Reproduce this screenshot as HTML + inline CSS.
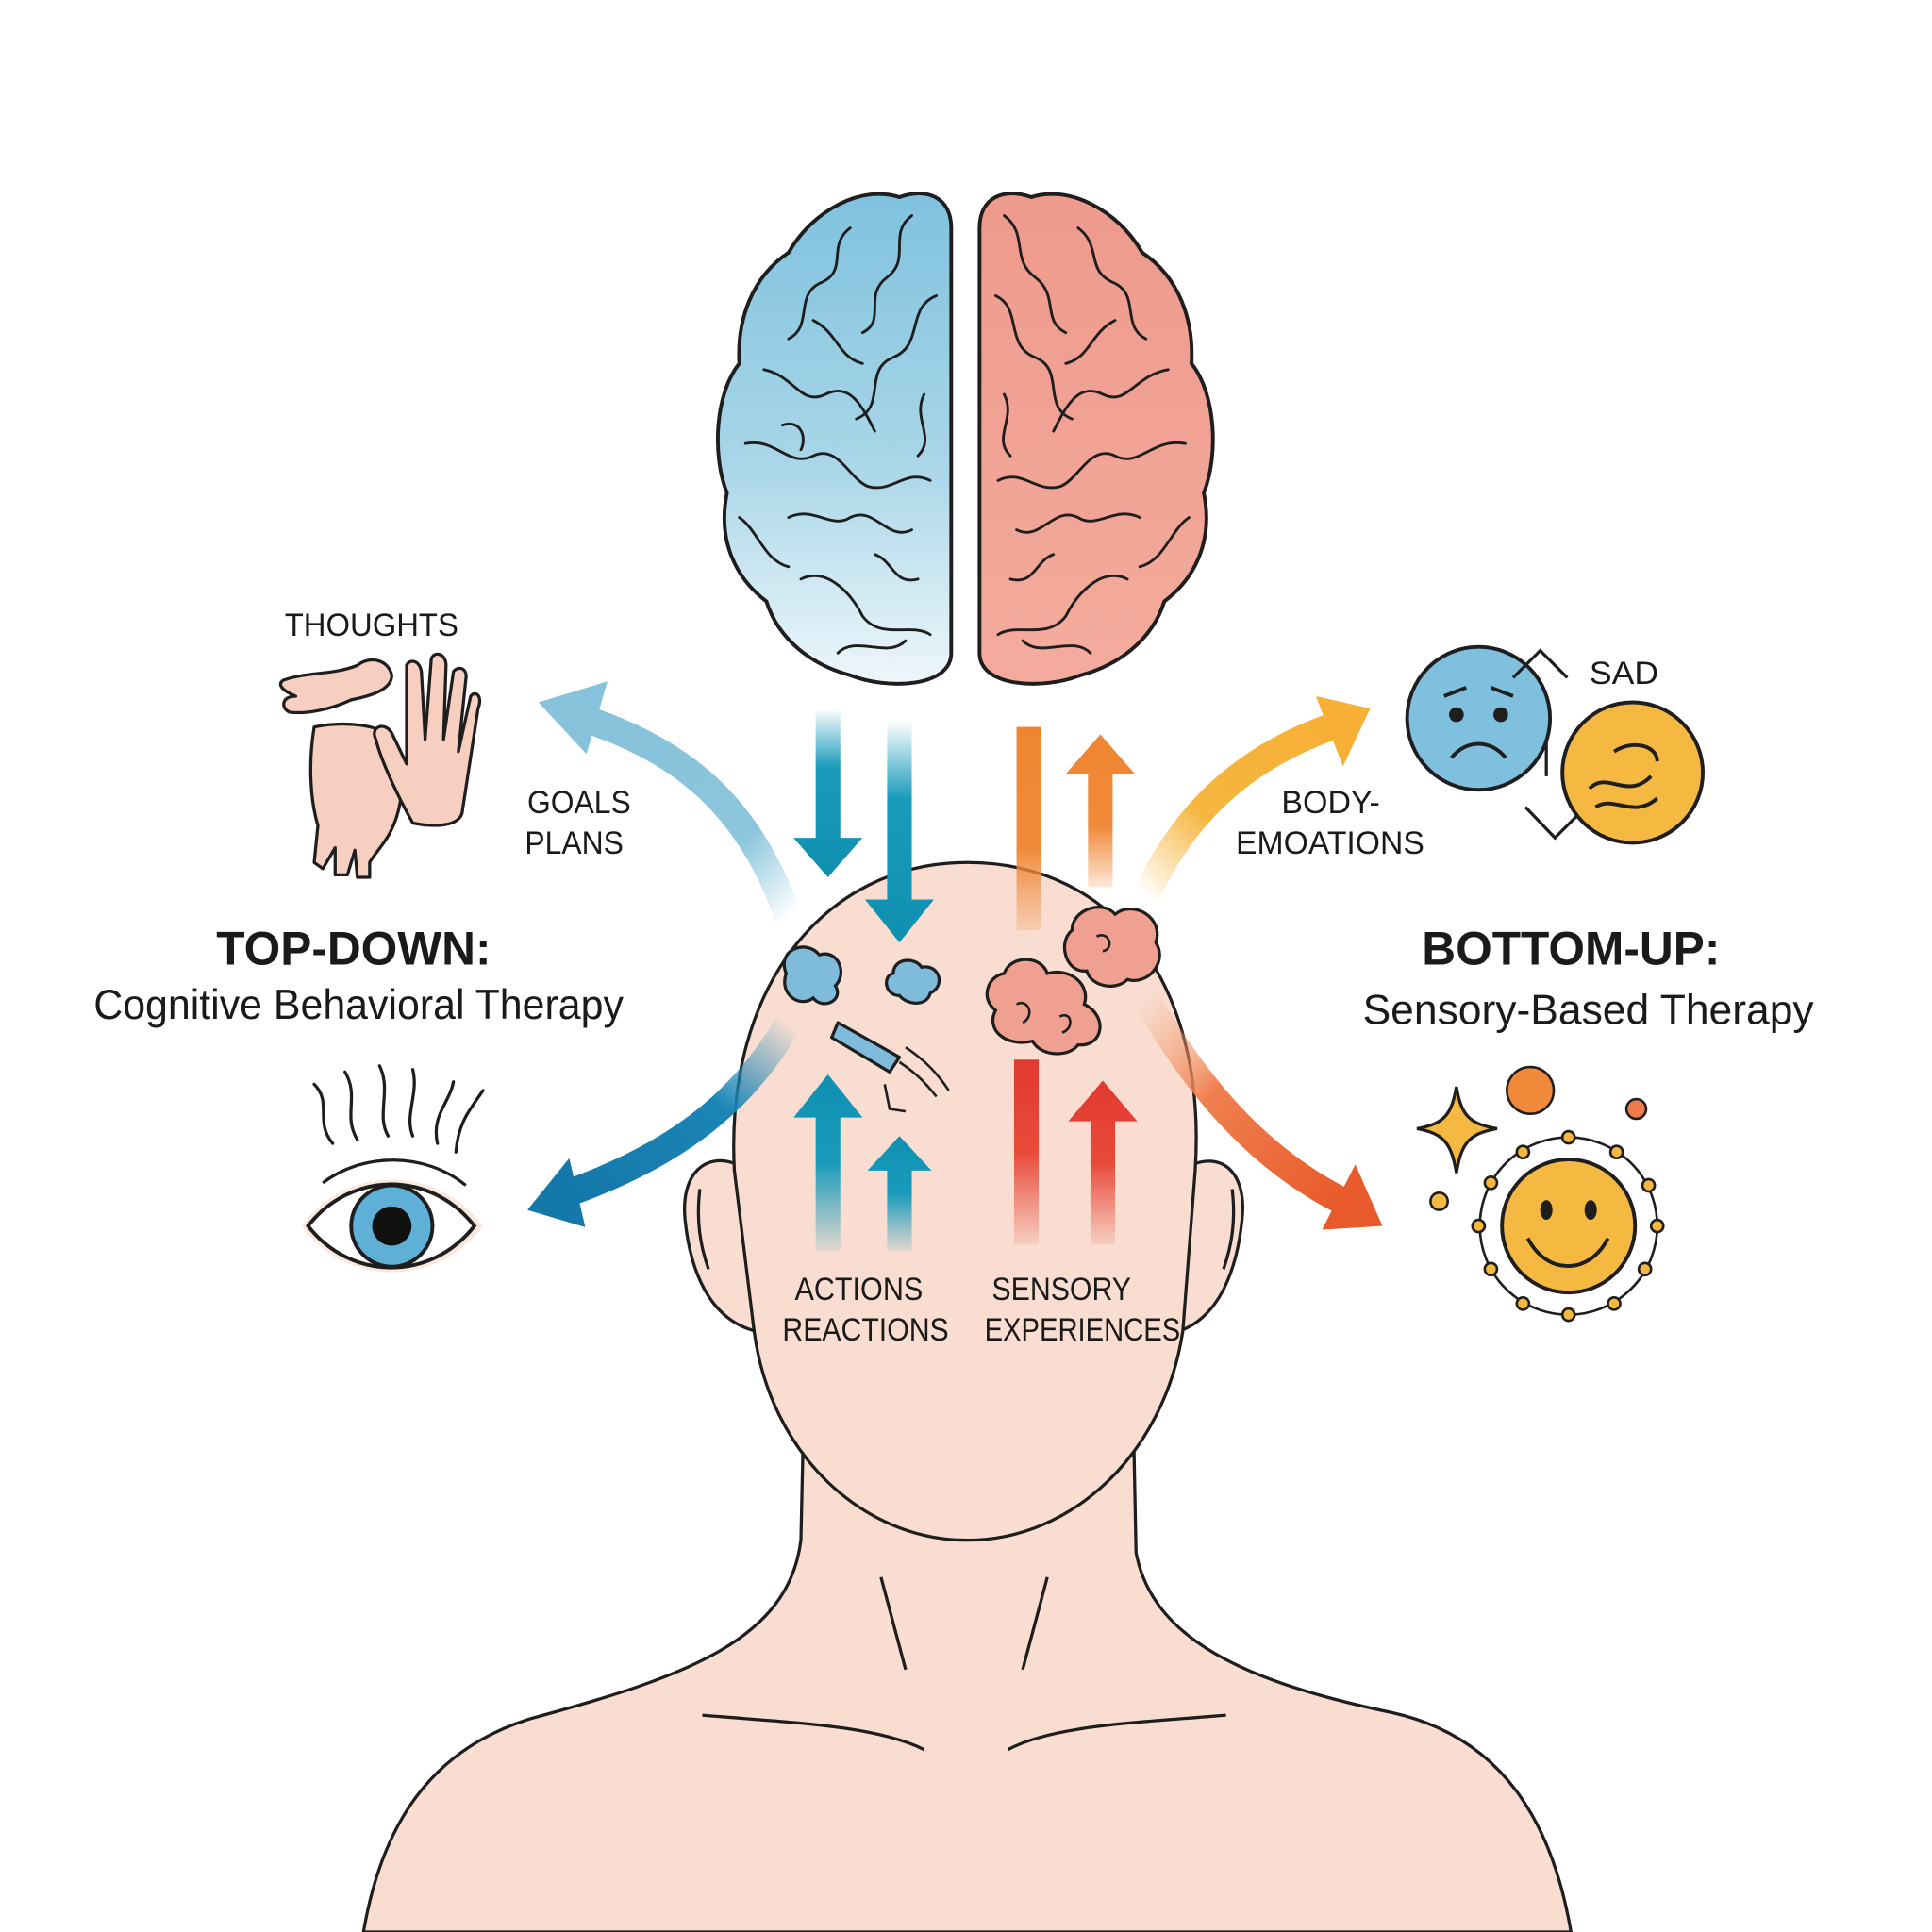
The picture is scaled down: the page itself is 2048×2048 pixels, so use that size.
<!DOCTYPE html>
<html><head><meta charset="utf-8"><style>
html,body{margin:0;padding:0;background:#fff}
svg{display:block}
text{font-family:"Liberation Sans","DejaVu Sans",sans-serif;fill:#1a1a1a}
</style></head><body>
<svg width="2048" height="2048" viewBox="0 0 1568 1568" xmlns="http://www.w3.org/2000/svg">
<defs>
<linearGradient id="bl" x1="0" y1="0" x2="0" y2="1"><stop offset="0" stop-color="#7fc2de"/><stop offset="0.55" stop-color="#a9d6e8"/><stop offset="1" stop-color="#eef7fb"/></linearGradient>
<linearGradient id="pk" x1="0" y1="0" x2="0" y2="1"><stop offset="0" stop-color="#ee9a8c"/><stop offset="1" stop-color="#f4ab9d"/></linearGradient>
<linearGradient id="dn" x1="0" y1="0" x2="0" y2="1"><stop offset="0" stop-color="#1a9bbb" stop-opacity="0"/><stop offset="0.35" stop-color="#1a9bbb"/><stop offset="1" stop-color="#1090b0"/></linearGradient>
<linearGradient id="up" x1="0" y1="1" x2="0" y2="0"><stop offset="0" stop-color="#1a9bbb" stop-opacity="0.1"/><stop offset="0.5" stop-color="#1a9bbb"/><stop offset="1" stop-color="#1090b0"/></linearGradient>
<linearGradient id="or" x1="0" y1="1" x2="0" y2="0"><stop offset="0" stop-color="#f08a3a" stop-opacity="0.2"/><stop offset="0.4" stop-color="#f08a3a"/><stop offset="1" stop-color="#ef8530"/></linearGradient>
<linearGradient id="rd" x1="0" y1="1" x2="0" y2="0"><stop offset="0" stop-color="#e84a3a" stop-opacity="0.1"/><stop offset="0.5" stop-color="#e84a3a"/><stop offset="1" stop-color="#e23a30"/></linearGradient>
<linearGradient id="c1" x1="1" y1="1" x2="0" y2="0"><stop offset="0" stop-color="#8cc6dc" stop-opacity="0"/><stop offset="0.3" stop-color="#8cc6dc"/><stop offset="1" stop-color="#86c2da"/></linearGradient>
<linearGradient id="c2" x1="1" y1="0" x2="0" y2="1"><stop offset="0" stop-color="#1a85b5" stop-opacity="0"/><stop offset="0.4" stop-color="#1a85b5"/><stop offset="1" stop-color="#1578aa"/></linearGradient>
<linearGradient id="c3" x1="0" y1="1" x2="1" y2="0"><stop offset="0" stop-color="#f6b640" stop-opacity="0"/><stop offset="0.4" stop-color="#f6b640"/><stop offset="1" stop-color="#f7b035"/></linearGradient>
<linearGradient id="c4" x1="0" y1="0" x2="1" y2="1"><stop offset="0" stop-color="#f4a070" stop-opacity="0"/><stop offset="0.4" stop-color="#f08050"/><stop offset="1" stop-color="#e85a2a"/></linearGradient>
</defs>
<rect width="1568" height="1568" fill="#fff"/>

<g stroke="#1e1e1e" stroke-width="2.5" fill="#f8ddd0">
<path d="M295,1568 C310,1480 350,1420 430,1395 C560,1360 640,1330 650,1250 L652,1160 L920,1160 L922,1260 C935,1330 1010,1365 1130,1390 C1220,1410 1260,1480 1275,1568 Z"/>
<path d="M598,945 C575,935 552,950 556,990 C560,1030 575,1070 612,1080 Z"/>
<path d="M968,945 C995,935 1012,955 1008,990 C1004,1030 990,1068 958,1080 Z"/>
<path d="M596,950 C588,800 670,700 785,700 C905,700 980,800 970,950 L960,1080 C945,1180 870,1250 785,1250 C700,1250 625,1180 612,1080 Z"/>
</g>
<g stroke="#1e1e1e" stroke-width="2.5" fill="none">
<path d="M715,1280 L735,1355"/><path d="M850,1280 L830,1355"/>
<path d="M570,1392 C640,1398 710,1400 750,1420"/><path d="M995,1392 C925,1398 855,1400 818,1420"/>
<path d="M568,965 C565,990 568,1010 575,1030"/><path d="M1000,965 C1003,990 1000,1010 993,1030"/>
</g>

<g stroke="#1e1e1e" stroke-width="3" stroke-linejoin="round">
<path fill="url(#bl)" d="M772,185 C772,160 752,152 730,160 C700,150 660,170 640,205 C610,225 598,260 600,295 C580,320 578,370 590,400 C582,440 598,470 622,488 C632,520 660,540 690,548 C720,560 772,558 772,530 Z"/>
<path fill="url(#pk)" d="M795,185 C795,160 815,152 837,160 C867,150 907,170 927,205 C957,225 969,260 967,295 C987,320 989,370 977,400 C985,440 969,470 945,488 C935,520 907,540 877,548 C847,560 795,558 795,530 Z"/>
</g>
<g stroke="#1e1e1e" stroke-width="2.2" fill="none" stroke-linecap="round">
<path d="M740,175 C720,190 740,210 720,225 C700,240 720,260 700,270"/>
<path d="M690,185 C670,200 690,220 665,230 C645,240 660,265 640,275"/>
<path d="M760,240 C735,250 750,280 725,290 C700,300 720,330 695,340"/>
<path d="M620,300 C645,305 650,330 670,320 C690,310 700,330 710,350"/>
<path d="M605,360 C630,355 640,380 660,370 C680,360 690,390 705,395 C725,400 735,380 755,390"/>
<path d="M640,420 C660,410 675,430 690,420 C710,410 720,440 740,430"/>
<path d="M600,420 C615,430 620,455 640,460"/>
<path d="M650,470 C670,460 690,480 700,500 C715,520 740,505 755,515"/>
<path d="M680,530 C695,515 720,535 735,520"/>
<path d="M750,320 C740,340 760,355 745,370"/>
<path d="M660,260 C680,270 680,290 700,295"/>
<path d="M635,345 C650,340 655,355 650,365"/>
<path d="M710,450 C725,455 725,475 745,470"/>
<path d="M815,175 C835,190 820,210 840,225 C860,240 845,260 865,270"/>
<path d="M875,185 C895,200 880,220 905,230 C925,240 910,265 930,275"/>
<path d="M808,240 C830,250 815,280 840,290 C865,300 845,330 870,340"/>
<path d="M948,300 C920,305 915,330 895,320 C875,310 865,330 855,350"/>
<path d="M962,360 C935,355 925,380 905,370 C885,360 875,390 860,395 C840,400 830,380 810,390"/>
<path d="M925,420 C905,410 890,430 875,420 C855,410 845,440 825,430"/>
<path d="M965,420 C950,430 945,455 925,460"/>
<path d="M915,470 C895,460 875,480 865,500 C850,520 825,505 810,515"/>
<path d="M885,530 C870,515 845,535 830,520"/>
<path d="M815,320 C825,340 805,355 820,370"/>
<path d="M905,260 C885,270 885,290 865,295"/>
<path d="M855,450 C840,455 840,475 820,470"/>
</g>

<path d="M662,575 h20 v105 h18 l-28,32 l-28,-32 h18 Z" fill="url(#dn)"/>
<path d="M720,585 h20 v145 h18 l-28,35 l-28,-35 h18 Z" fill="url(#dn)"/>
<rect x="825" y="590" width="20" height="165" fill="url(#or)"/>
<path d="M883,720 v-92 h-18 l28,-32 l28,32 h-18 v92 Z" fill="url(#or)"/>
<path d="M662,1015 v-108 h-18 l28,-35 l28,35 h-18 v108 Z" fill="url(#up)"/>
<path d="M720,1015 v-65 h-16 l26,-28 l26,28 h-16 v65 Z" fill="url(#up)"/>
<rect x="823" y="860" width="20" height="150" fill="url(#rd)"/>
<path d="M885,1010 v-100 h-18 l28,-33 l28,33 h-18 v100 Z" fill="url(#rd)"/>

<path d="M640,745 C610,660 560,610 470,582" stroke="url(#c1)" stroke-width="22" fill="none"/>
<polygon points="437,570 493,553 476,612" fill="#86c2da"/>
<path d="M640,830 C600,900 540,940 462,968" stroke="url(#c2)" stroke-width="22" fill="none"/>
<polygon points="428,982 462,940 475,996" fill="#1578aa"/>
<path d="M930,728 C960,660 1010,615 1080,590" stroke="url(#c3)" stroke-width="22" fill="none"/>
<polygon points="1112,575 1068,565 1090,622" fill="#f7b035"/>
<path d="M930,810 C970,880 1020,940 1090,975" stroke="url(#c4)" stroke-width="22" fill="none"/>
<polygon points="1122,995 1073,998 1100,945" fill="#e85a2a"/>

<g stroke="#1e1e1e" stroke-width="2.5">
<path fill="#7fbcdc" d="M638,790 C630,770 655,762 665,775 C680,770 688,790 678,800 C685,812 668,820 660,810 C650,818 632,808 638,790 Z"/>
<path fill="#7fbcdc" d="M725,790 C725,778 742,776 748,785 C762,782 768,800 755,806 C752,818 735,815 730,808 C718,808 716,792 725,790 Z"/>
<path fill="#7fbcdc" d="M680,830 L730,858 L722,870 L675,842 Z" stroke-linejoin="round"/>
<path fill="#f0a090" d="M815,790 C820,775 845,775 850,790 C870,785 885,800 880,815 C900,825 895,850 875,848 C868,858 845,858 838,845 C815,850 800,835 808,820 C795,810 802,792 815,790 Z"/>
<path fill="#f0a090" d="M870,755 C870,738 895,730 905,742 C920,730 945,745 938,765 C948,780 932,800 915,795 C905,805 885,800 882,788 C865,790 858,765 870,755 Z"/>
</g>
<g stroke="#1e1e1e" stroke-width="2" fill="none">
<path d="M735,850 C750,860 760,870 770,885"/><path d="M730,862 C745,872 752,880 760,890"/>
<path d="M718,880 L722,900 L735,902"/>
<path d="M825,815 C835,810 840,825 830,830"/><path d="M860,825 C870,820 872,835 862,838"/><path d="M890,760 C900,755 905,770 895,772"/>
</g>

<g stroke="#1e1e1e" stroke-width="2.5" fill="#f6cfc0" stroke-linejoin="round">
<path d="M230,552 C250,545 270,548 290,540 C300,532 315,535 318,548 C318,560 300,565 285,568 C270,575 250,580 235,578 C228,575 228,565 240,565 C228,560 225,555 230,552 Z"/>
<path d="M255,590 C280,585 310,588 318,600 L325,650 C320,680 305,690 300,700 L300,712 L290,712 L288,690 L282,710 L272,710 L272,688 L262,705 L255,700 L258,670 C252,650 250,620 255,590 Z"/>
<path d="M330,540 C332,535 340,535 342,545 L345,600 L350,535 C352,528 362,530 362,540 L360,600 L368,545 C372,540 380,542 378,552 L372,610 L382,565 C386,560 392,565 388,575 L375,660 C372,670 355,672 335,668 C325,650 310,620 305,600 C300,590 312,585 318,595 L330,620 Z"/>
</g>

<g stroke="#1e1e1e" stroke-width="2.5" fill="none" stroke-linecap="round">
<path d="M255,880 C270,895 255,910 270,928"/><path d="M280,870 C292,890 278,905 290,925"/>
<path d="M308,865 C318,885 305,905 315,922"/><path d="M335,868 C340,888 328,905 335,922"/>
<path d="M368,878 C365,895 350,905 355,928"/><path d="M392,885 C382,900 372,910 370,935"/>
</g>
<path d="M245,995 C280,945 355,945 392,995 C355,1045 280,1045 245,995 Z" fill="#f8ddd0" opacity="0.7"/>
<path d="M250,995 C285,950 350,950 385,995 C350,1040 285,1040 250,995 Z" fill="#fff" stroke="#1e1e1e" stroke-width="3"/>
<path d="M262,960 C295,935 345,935 378,962" fill="none" stroke="#1e1e1e" stroke-width="2.5"/>
<circle cx="318" cy="995" r="33" fill="#5fb0d6" stroke="#1e1e1e" stroke-width="3"/>
<circle cx="318" cy="995" r="16" fill="#111"/>

<circle cx="1200" cy="583" r="58" fill="#7ec0de" stroke="#1e1e1e" stroke-width="3"/>
<circle cx="1182" cy="580" r="6" fill="#1e1e1e"/><circle cx="1218" cy="580" r="6" fill="#1e1e1e"/>
<path d="M1172,565 L1190,558 M1228,565 L1210,558 M1178,615 C1190,600 1210,600 1222,615" stroke="#1e1e1e" stroke-width="3" fill="none"/>
<path d="M1228,550 L1250,528 L1272,550 M1255,600 L1255,630 M1238,655 L1262,680 L1282,660" stroke="#1e1e1e" stroke-width="2.5" fill="none"/>
<circle cx="1325" cy="627" r="57" fill="#f5b942" stroke="#1e1e1e" stroke-width="3"/>
<path d="M1290,640 C1305,625 1320,650 1340,630 M1295,655 C1310,645 1325,665 1345,648 M1310,610 C1325,600 1345,605 1345,618" stroke="#1e1e1e" stroke-width="3" fill="none"/>

<circle cx="1273" cy="995" r="72" fill="none" stroke="#1e1e1e" stroke-width="2"/>
<g fill="#f5b942" stroke="#1e1e1e" stroke-width="2">
<circle cx="1273" cy="923" r="5"/><circle cx="1312" cy="935" r="5"/><circle cx="1338" cy="962" r="5"/><circle cx="1345" cy="995" r="5"/><circle cx="1335" cy="1030" r="5"/><circle cx="1310" cy="1058" r="5"/><circle cx="1273" cy="1067" r="5"/><circle cx="1236" cy="1058" r="5"/><circle cx="1210" cy="1030" r="5"/><circle cx="1200" cy="995" r="5"/><circle cx="1210" cy="960" r="5"/><circle cx="1236" cy="935" r="5"/>
<circle cx="1168" cy="975" r="7"/></g>
<circle cx="1273" cy="995" r="54" fill="#f5b942" stroke="#1e1e1e" stroke-width="3"/>
<ellipse cx="1255" cy="982" rx="5" ry="8" fill="#1e1e1e"/><ellipse cx="1291" cy="982" rx="5" ry="8" fill="#1e1e1e"/>
<path d="M1240,1005 C1255,1035 1290,1035 1305,1005" stroke="#1e1e1e" stroke-width="3" fill="none"/>
<circle cx="1242" cy="885" r="19" fill="#f08a3a" stroke="#1e1e1e" stroke-width="2"/>
<circle cx="1328" cy="900" r="8" fill="#f07a4a" stroke="#1e1e1e" stroke-width="2"/>
<path d="M1182,882 C1186,905 1192,912 1215,916 C1192,920 1186,928 1182,952 C1178,928 1172,920 1150,916 C1172,912 1178,905 1182,882 Z" fill="#f5b942" stroke="#1e1e1e" stroke-width="2.5"/>

<text x="231" y="516" font-size="26" textLength="141" lengthAdjust="spacingAndGlyphs">THOUGHTS</text>
<text x="428" y="660" font-size="26" textLength="84" lengthAdjust="spacingAndGlyphs">GOALS</text>
<text x="426" y="693" font-size="26" textLength="80" lengthAdjust="spacingAndGlyphs">PLANS</text>
<text x="287" y="783" font-size="38" font-weight="bold" text-anchor="middle">TOP-DOWN:</text>
<text x="291" y="827" font-size="34" text-anchor="middle" textLength="430" lengthAdjust="spacingAndGlyphs">Cognitive Behavioral Therapy</text>
<text x="1275" y="783" font-size="38" font-weight="bold" text-anchor="middle">BOTTOM-UP:</text>
<text x="1289" y="831" font-size="34" text-anchor="middle" textLength="366" lengthAdjust="spacingAndGlyphs">Sensory-Based Therapy</text>
<text x="1040" y="660" font-size="26" textLength="80" lengthAdjust="spacingAndGlyphs">BODY-</text>
<text x="1003" y="693" font-size="26" textLength="153" lengthAdjust="spacingAndGlyphs">EMOATIONS</text>
<text x="1290" y="555" font-size="26" textLength="56" lengthAdjust="spacingAndGlyphs">SAD</text>
<text x="645" y="1055" font-size="26" textLength="104" lengthAdjust="spacingAndGlyphs">ACTIONS</text>
<text x="635" y="1088" font-size="26" textLength="135" lengthAdjust="spacingAndGlyphs">REACTIONS</text>
<text x="805" y="1055" font-size="26" textLength="113" lengthAdjust="spacingAndGlyphs">SENSORY</text>
<text x="799" y="1088" font-size="26" textLength="159" lengthAdjust="spacingAndGlyphs">EXPERIENCES</text>
</svg>
</body></html>
